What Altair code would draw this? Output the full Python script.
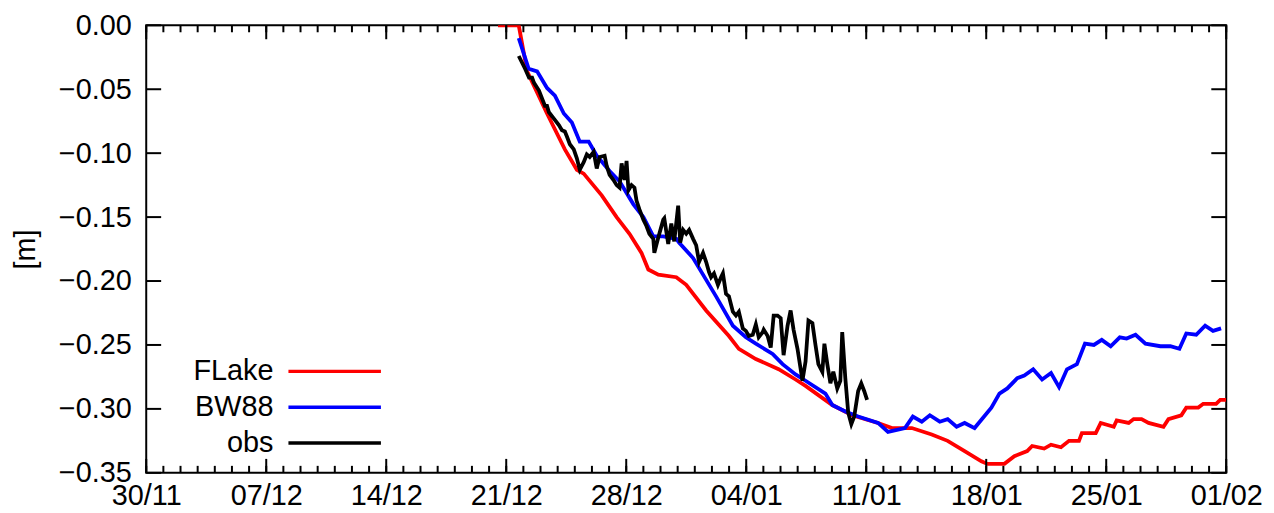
import altair as alt
import pandas as pd

# ---------------- data (day offset from 30/11, level [m]) ----------------
FLAKE_DAY = [20.52, 21.73, 22.22, 23.38, 24.42, 25.12, 25.52, 26.57, 27.44, 28.19,
             28.89, 29.29, 29.87, 30.92, 31.50, 32.66, 33.99, 34.57, 35.56, 36.89,
             37.88, 38.46, 40.02, 41.18, 42.69, 43.50, 44.66, 45.82, 46.75, 47.74,
             48.72, 49.07, 50.06, 50.64, 51.39, 51.68, 52.38, 52.78, 53.36, 53.83,
             54.41, 54.58, 55.39, 55.68, 56.44, 56.61, 57.31, 57.60, 58.06, 58.47,
             59.34, 59.63, 60.38, 60.67, 61.37, 61.66, 62.41, 62.65, 63.00]
FLAKE_VAL = [0.000, 0.000, -0.036, -0.069, -0.097, -0.113, -0.116, -0.133, -0.150, -0.163,
             -0.178, -0.191, -0.195, -0.197, -0.203, -0.223, -0.243, -0.253, -0.261, -0.269,
             -0.277, -0.282, -0.297, -0.305, -0.311, -0.315, -0.315, -0.320, -0.325, -0.333,
             -0.341, -0.343, -0.343, -0.337, -0.333, -0.329, -0.331, -0.328, -0.330, -0.325,
             -0.325, -0.319, -0.319, -0.311, -0.314, -0.309, -0.311, -0.308, -0.308, -0.311,
             -0.314, -0.308, -0.305, -0.299, -0.299, -0.296, -0.296, -0.293, -0.293]

BW88_DAY = [21.73, 22.31, 22.80, 23.38, 23.84, 24.36, 24.83, 25.29, 25.81, 26.28,
            27.03, 27.61, 28.42, 29.00, 29.58, 30.16, 30.92, 31.09, 31.90, 32.48,
            33.24, 34.22, 34.98, 35.56, 36.54, 37.12, 37.88, 38.46, 39.62, 40.02,
            40.78, 41.53, 42.69, 43.27, 44.26, 44.72, 45.24, 45.71, 46.29, 46.75,
            47.27, 47.74, 48.32, 49.30, 49.77, 50.23, 50.81, 51.22, 51.74, 52.26,
            52.78, 53.25, 53.71, 54.29, 54.76, 55.28, 55.74, 56.26, 56.79, 57.19,
            57.71, 58.29, 59.16, 59.74, 60.27, 60.67, 61.25, 61.77, 62.23, 62.70]
BW88_VAL = [-0.010, -0.034, -0.036, -0.049, -0.055, -0.069, -0.076, -0.091, -0.091, -0.102,
            -0.114, -0.122, -0.140, -0.150, -0.165, -0.165, -0.167, -0.170, -0.182, -0.195,
            -0.212, -0.235, -0.244, -0.249, -0.257, -0.265, -0.273, -0.278, -0.288, -0.297,
            -0.302, -0.306, -0.311, -0.318, -0.315, -0.306, -0.310, -0.305, -0.310, -0.308,
            -0.314, -0.311, -0.315, -0.299, -0.288, -0.284, -0.276, -0.274, -0.269, -0.277,
            -0.272, -0.283, -0.269, -0.265, -0.249, -0.250, -0.246, -0.251, -0.244, -0.245,
            -0.242, -0.249, -0.251, -0.251, -0.253, -0.241, -0.242, -0.235, -0.239, -0.237]

OBS_DAY = [21.73, 22.10, 22.33, 22.51, 22.62, 22.91, 23.26, 23.38, 23.49, 23.78,
           24.07, 24.25, 24.42, 24.54, 24.71, 24.94, 25.12, 25.29, 25.52, 25.70,
           25.87, 26.10, 26.28, 26.45, 26.74, 26.86, 27.03, 27.26, 27.44, 27.61,
           27.73, 27.90, 28.02, 28.13, 28.31, 28.48, 28.60, 28.77, 29.00, 29.18,
           29.35, 29.58, 29.64, 29.87, 30.16, 30.22, 30.45, 30.63, 30.80, 31.03,
           31.15, 31.32, 31.50, 31.67, 31.90, 32.08, 32.25, 32.48, 32.66, 32.83,
           32.95, 33.12, 33.35, 33.53, 33.64, 33.82, 33.99, 34.22, 34.40, 34.57,
           34.80, 34.98, 35.15, 35.38, 35.56, 35.73, 35.96, 36.02, 36.25, 36.43,
           36.60, 36.83, 37.01, 37.18, 37.41, 37.59, 37.76, 37.99, 38.28, 38.46,
           38.63, 38.86, 39.04, 39.21, 39.44, 39.56, 39.73, 39.91, 40.08, 40.31,
           40.49, 40.60, 40.78, 40.95, 41.13, 41.30, 41.53, 41.71, 41.88, 42.05]
OBS_VAL = [-0.024, -0.034, -0.041, -0.041, -0.045, -0.051, -0.063, -0.063, -0.068, -0.073,
           -0.078, -0.082, -0.083, -0.087, -0.093, -0.097, -0.104, -0.113, -0.107, -0.101,
           -0.103, -0.099, -0.112, -0.103, -0.102, -0.110, -0.117, -0.121, -0.125, -0.127,
           -0.108, -0.121, -0.106, -0.129, -0.125, -0.127, -0.137, -0.144, -0.152, -0.157,
           -0.163, -0.167, -0.178, -0.166, -0.152, -0.151, -0.171, -0.155, -0.169, -0.141,
           -0.170, -0.160, -0.163, -0.160, -0.167, -0.172, -0.185, -0.178, -0.185, -0.193,
           -0.197, -0.194, -0.203, -0.197, -0.194, -0.210, -0.212, -0.224, -0.227, -0.224,
           -0.237, -0.239, -0.243, -0.242, -0.234, -0.244, -0.240, -0.238, -0.243, -0.252,
           -0.227, -0.227, -0.229, -0.258, -0.235, -0.223, -0.238, -0.253, -0.278, -0.263,
           -0.231, -0.233, -0.250, -0.265, -0.271, -0.249, -0.265, -0.280, -0.271, -0.284,
           -0.278, -0.240, -0.276, -0.303, -0.312, -0.306, -0.286, -0.280, -0.286, -0.293]

X_TICK_DAYS = [0, 7, 14, 21, 28, 35, 42, 49, 56, 63]
X_TICK_LABELS = ["30/11", "07/12", "14/12", "21/12", "28/12", "04/01",
                 "11/01", "18/01", "25/01", "01/02"]
X_MINOR_DAYS = list(range(0, 64))
Y_TICKS = [-0.35, -0.30, -0.25, -0.20, -0.15, -0.10, -0.05, 0.00]

SERIES = ["FLake", "BW88", "obs"]
COLORS = ["#ff0000", "#0000ff", "#000000"]

# ---------------- layout ----------------
W, H = 1086, 450
FONT = "Liberation Sans"
FS = 29
MAJ, MIN = 14, 7
LW = 3.8

xscale = alt.Scale(domain=[0, 63], nice=False, zero=False)
yscale = alt.Scale(domain=[-0.35, 0.0], nice=False, zero=False)

label_expr = "[" + ",".join("'%s'" % s for s in X_TICK_LABELS) + "][round(datum.value/7)]"

xax = alt.Axis(values=X_TICK_DAYS, labelExpr=label_expr, ticks=False, domain=False,
               grid=False, title=None, labelPadding=9, labelFlush=False,
               labelOverlap=False, labelFont=FONT, labelFontSize=FS, labelColor="black")
yax = alt.Axis(values=Y_TICKS, format=".2f", ticks=False, domain=False, grid=False,
               title="[m]", labelPadding=15, labelFlush=False, labelOverlap=False,
               labelFont=FONT, labelFontSize=FS, labelColor="black",
               titleFont=FONT, titleFontSize=FS, titleColor="black",
               titleX=-121, titleY=H / 2, titleAngle=270, titleAlign="center",
               titleBaseline="middle", titleFontWeight="normal")


def line_layer(days, vals, color):
    df = pd.DataFrame({"d": days, "v": vals})
    return alt.Chart(df).mark_line(color=color, strokeWidth=LW, clip=True).encode(
        x=alt.X("d:Q", scale=xscale, axis=xax),
        y=alt.Y("v:Q", scale=yscale, axis=yax),
    )


major_df = pd.DataFrame({"d": X_TICK_DAYS})
minor_df = pd.DataFrame({"d": X_MINOR_DAYS})
ytick_df = pd.DataFrame({"v": Y_TICKS})


def xticks(df, length):
    bottom = alt.Chart(df).mark_rule(color="black", strokeWidth=2).encode(
        x=alt.X("d:Q", scale=xscale), y=alt.value(H), y2=alt.value(H - length))
    top = alt.Chart(df).mark_rule(color="black", strokeWidth=2).encode(
        x=alt.X("d:Q", scale=xscale), y=alt.value(0), y2=alt.value(length))
    return bottom + top


yticks_left = alt.Chart(ytick_df).mark_rule(color="black", strokeWidth=2).encode(
    y=alt.Y("v:Q", scale=yscale), x=alt.value(0), x2=alt.value(MAJ + 1))
yticks_right = alt.Chart(ytick_df).mark_rule(color="black", strokeWidth=2).encode(
    y=alt.Y("v:Q", scale=yscale), x=alt.value(W - MAJ - 1), x2=alt.value(W))

# legend (label left, sample line right)
leg_layers = []
LEG_Y = [348, 384, 420]
for name, col, ly in zip(SERIES, COLORS, LEG_Y):
    leg_df = pd.DataFrame({"name": [name]})
    leg_layers.append(alt.Chart(leg_df).mark_text(
        align="right", baseline="middle", font=FONT, fontSize=FS, color="black"
    ).encode(text="name:N", x=alt.value(128), y=alt.value(ly)))
    leg_layers.append(alt.Chart(leg_df).mark_rule(color=col, strokeWidth=3.5).encode(
        x=alt.value(143), x2=alt.value(236), y=alt.value(ly)))

chart = alt.layer(
    line_layer(FLAKE_DAY, FLAKE_VAL, COLORS[0]),
    line_layer(BW88_DAY, BW88_VAL, COLORS[1]),
    line_layer(OBS_DAY, OBS_VAL, COLORS[2]),
    xticks(minor_df, MIN),
    xticks(major_df, MAJ),
    yticks_left, yticks_right,
    *leg_layers,
).properties(
    width=W, height=H,
    background="white",
    autosize=alt.AutoSizeParams(type="none"),
    padding={"left": 139, "top": 16, "right": 40, "bottom": 39},
).configure_view(
    stroke="black", strokeWidth=2
)

chart.save("out.html", embed_options={"renderer": "svg", "actions": False})
